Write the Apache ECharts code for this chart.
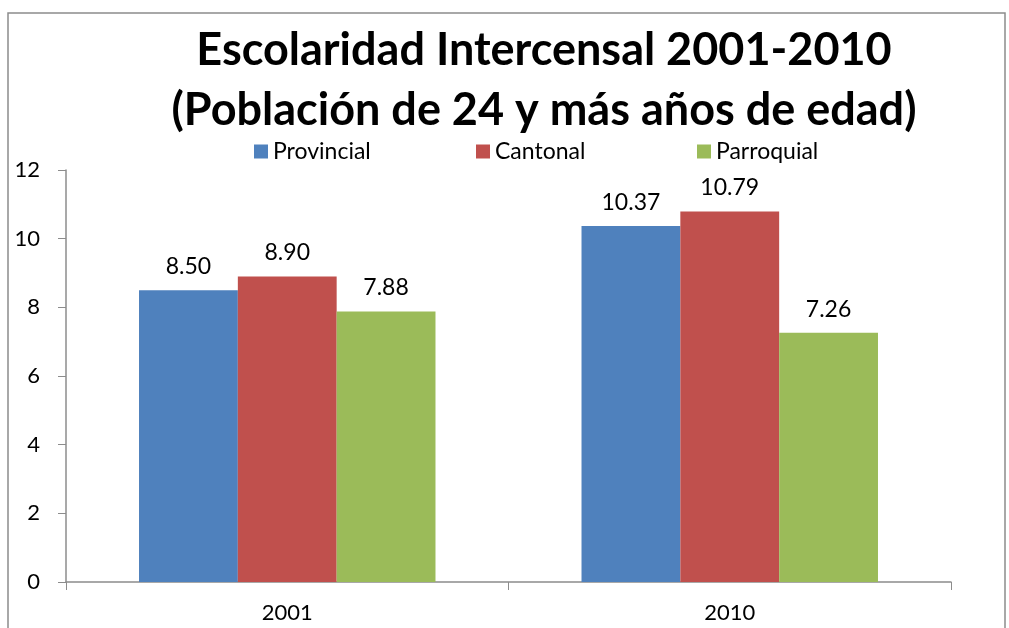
<!DOCTYPE html>
<html>
<head>
<meta charset="utf-8">
<script src="https://cdn.jsdelivr.net/npm/echarts@6/dist/echarts.min.js"></script>
<style>
  html, body { margin: 0; padding: 0; background: #fff; }
  #chart { width: 1009px; height: 628px; }
</style>
</head>
<body>
<div id="chart"></div>
<script>
// data
const categories = ['2001', '2010'];
const seriesNames = ['Provincial', 'Cantonal', 'Parroquial'];
const provincial = [8.50, 10.37];
const cantonal = [8.90, 10.79];
const parroquial = [7.88, 7.26];
const yTicks = { min: 0, max: 12, interval: 2 };

const font = 'Lato, "Open Sans", sans-serif';
const chart = echarts.init(document.getElementById('chart'));

function bar(name, data, color) {
  return {
    name: name,
    type: 'bar',
    data: data,
    barGap: 0,
    barCategoryGap: '33%',
    itemStyle: { color: color },
    label: {
      show: true,
      position: 'top',
      distance: 12,
      color: '#000',
      fontSize: 23,
      fontFamily: font,
      formatter: p => p.value.toFixed(2)
    }
  };
}

// one legend per item so each sits at its own spot
const legendLeft = [249, 471, 692];
const legends = seriesNames.map((n, i) => ({
  top: 135,
  left: legendLeft[i],
  itemWidth: 14,
  itemHeight: 14,
  itemGap: 8,
  icon: 'rect',
  textStyle: { fontFamily: font, fontSize: 23, color: '#000' },
  data: [n]
}));

const option = {
  animation: false,
  backgroundColor: '#fff',
  title: {
    text: 'Escolaridad Intercensal 2001-2010\n(Población de 24 y más años de edad)',
    left: 539,
    textAlign: 'center',
    top: 15,
    textStyle: {
      fontFamily: font,
      fontWeight: 'bold',
      fontSize: 45,
      lineHeight: 60,
      color: '#000'
    }
  },
  legend: legends,
  grid: { left: 66, right: 58, top: 170, bottom: 46 },
  xAxis: {
    type: 'category',
    data: categories,
    axisLine: { lineStyle: { color: '#8c8c8c', width: 1.5 } },
    axisTick: { show: true, length: 8, alignWithLabel: false, lineStyle: { color: '#8c8c8c' } },
    axisLabel: { color: '#000', fontSize: 22, fontFamily: font, margin: 20 }
  },
  yAxis: {
    type: 'value',
    min: yTicks.min,
    max: yTicks.max,
    interval: yTicks.interval,
    axisLine: { show: true, lineStyle: { color: '#8c8c8c', width: 1.5 } },
    axisTick: { show: true, length: 8, lineStyle: { color: '#8c8c8c' } },
    splitLine: { show: false },
    axisLabel: { color: '#000', fontSize: 22, fontFamily: font, margin: 26 }
  },
  graphic: [{
    type: 'rect',
    shape: { x: 8, y: 13, width: 997, height: 640 },
    style: { fill: 'none', stroke: '#8c8c8c', lineWidth: 1.5 },
    z: -1
  }],
  series: [
    bar(seriesNames[0], provincial, '#4f81bd'),
    bar(seriesNames[1], cantonal, '#c0504d'),
    bar(seriesNames[2], parroquial, '#9bbb59')
  ]
};

chart.setOption(option);
</script>
</body>
</html>
